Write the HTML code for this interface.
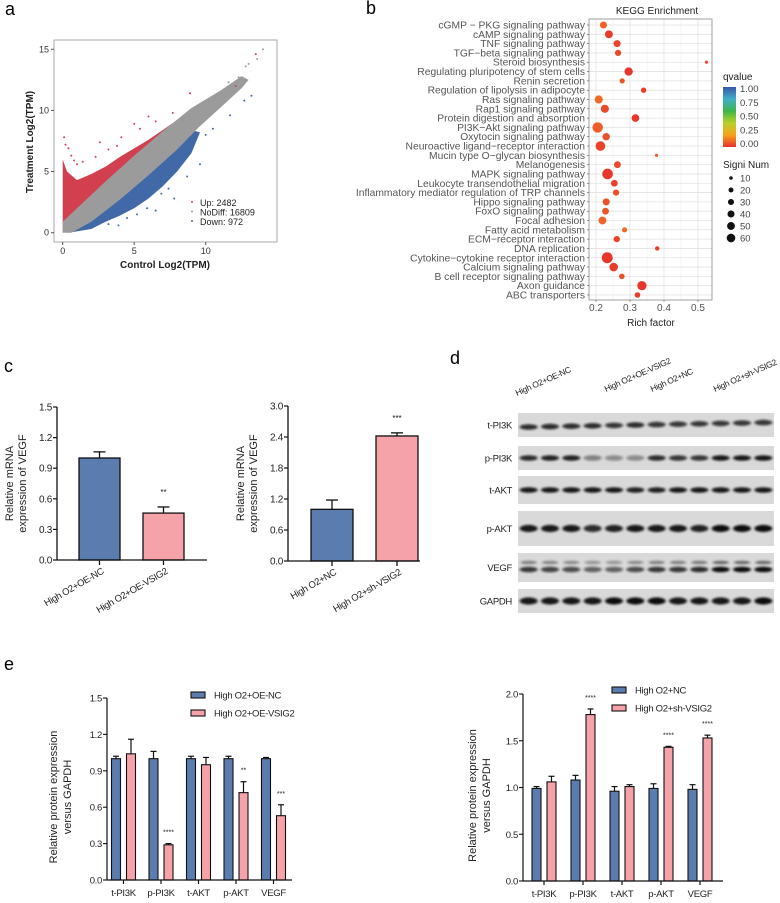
<!DOCTYPE html>
<html><head><meta charset="utf-8"><style>
html,body{margin:0;padding:0;background:#fff;}
svg{display:block;font-family:"Liberation Sans",sans-serif;}
.n{font-family:"Liberation Sans Narrow","Liberation Sans",sans-serif;letter-spacing:-0.3px;}
</style></head><body>
<svg id="fig" width="780" height="903" viewBox="0 0 780 903" xmlns="http://www.w3.org/2000/svg">
<defs>
<filter id="blur1" x="-50%" y="-100%" width="200%" height="300%"><feGaussianBlur stdDeviation="1.4 1.1"/></filter>
<linearGradient id="qgrad" x1="0" y1="1" x2="0" y2="0">
<stop offset="0" stop-color="#e8302a"/><stop offset="0.2" stop-color="#f7a21b"/><stop offset="0.4" stop-color="#b6d12a"/><stop offset="0.6" stop-color="#3fb54a"/><stop offset="0.8" stop-color="#3fb0c8"/><stop offset="1" stop-color="#3a56a8"/>
</linearGradient>
</defs>
<text x="5" y="15" font-size="18">a</text>
<text x="366" y="14" font-size="18">b</text>
<text x="4" y="372" font-size="18">c</text>
<text x="450" y="364" font-size="18">d</text>
<text x="4" y="670" font-size="18">e</text>
<g id="pa"></g>
<g id="pb"></g>
<g id="pc"></g>
<g id="pd"></g>
<g id="pe"></g>
</svg>
<script>
// ---------- panel a data ----------
const upX = [0.1,0.2,0.6,1.0,2.3,0.4,3.2,4.1,5.0,5.4,6.0,7.7,8.9,12.1,13.5,2.6,1.4,3.8,0.8,6.5];
const upY = [7.8,7.2,6.3,5.6,6.2,6.9,6.8,7.8,8.9,8.5,9.5,9.8,11.4,12.0,14.6,7.4,5.8,7.1,5.9,9.1];
const downX = [4.5,5.9,6.9,7.8,8.7,9.6,10.0,11.7,12.7,13.2,6.5,7.4,5.2,3.9,3.2,9.0,10.5];
const downY = [1.2,2.0,3.2,2.8,4.6,5.6,8.0,9.6,10.8,11.2,1.8,3.6,1.5,0.6,0.7,6.7,8.5];
const grayX = [9.5,10.2,11.0,11.6,12.3,12.8,13.6,14.0,10.7,12.0,13.0,9.9];
const grayY = [9.8,10.9,11.4,12.3,12.7,13.6,14.2,15.0,11.0,12.1,13.8,10.3];
const legendA = ["Up: 2482","NoDiff: 16809","Down: 972"];
// ---------- panel b data ----------
const keggTerms = ["cGMP - PKG signaling pathway","cAMP signaling pathway","TNF signaling pathway","TGF-beta signaling pathway","Steroid biosynthesis","Regulating pluripotency of stem cells","Renin secretion","Regulation of lipolysis in adipocyte","Ras signaling pathway","Rap1 signaling pathway","Protein digestion and absorption","PI3K-Akt signaling pathway","Oxytocin signaling pathway","Neuroactive ligand-receptor interaction","Mucin type O-glycan biosynthesis","Melanogenesis","MAPK signaling pathway","Leukocyte transendothelial migration","Inflammatory mediator regulation of TRP channels","Hippo signaling pathway","FoxO signaling pathway","Focal adhesion","Fatty acid metabolism","ECM-receptor interaction","DNA replication","Cytokine-cytokine receptor interaction","Calcium signaling pathway","B cell receptor signaling pathway","Axon guidance","ABC transporters"];
const keggRich = [0.222,0.238,0.262,0.265,0.525,0.296,0.277,0.340,0.208,0.226,0.316,0.205,0.230,0.213,0.378,0.263,0.234,0.254,0.259,0.230,0.228,0.219,0.284,0.261,0.380,0.233,0.252,0.276,0.335,0.322];
const keggNum = [26,32,26,20,5,36,14,15,34,34,30,56,28,48,5,24,58,24,20,26,24,32,14,20,10,62,38,16,44,16];
const keggQ = [0.08,0.02,0.03,0.04,0.03,0.01,0.06,0.02,0.09,0.04,0.01,0.07,0.05,0.03,0.06,0.04,0.01,0.03,0.05,0.05,0.06,0.08,0.09,0.03,0.02,0.01,0.02,0.05,0.01,0.02];
const keggTicks = [0.2,0.3,0.4,0.5];
const qTicks = ["1.00","0.75","0.50","0.25","0.00"];
const sizeLegend = [10,20,30,40,50,60];
// ---------- panel c data ----------
const c1Cats = ["High O2+OE-NC","High O2+OE-VSIG2"];
const c1Vals = [1.0,0.46];
const c1Errs = [0.06,0.06];
const c1Stars = ["","**"];
const c1Ticks = [0,0.3,0.6,0.9,1.2,1.5];
const c2Cats = ["High O2+NC","High O2+sh-VSIG2"];
const c2Vals = [1.0,2.42];
const c2Errs = [0.18,0.06];
const c2Stars = ["","***"];
const c2Ticks = [0,0.6,1.2,1.8,2.4,3.0];
// ---------- panel d data ----------
const blotRows = ["t-PI3K","p-PI3K","t-AKT","p-AKT","VEGF","GAPDH"];
const blotGroups = ["High O2+OE-NC","High O2+OE-VSIG2","High O2+NC","High O2+sh-VSIG2"];
const blotIntensity = [
 [0.85,0.85,0.85,0.85,0.8,0.85,0.8,0.8,0.8,0.8,0.8,0.8],
 [0.85,0.9,0.9,0.45,0.4,0.4,0.85,0.8,0.8,0.95,0.95,0.95],
 [0.95,0.95,0.95,0.95,0.95,0.9,0.9,0.95,0.95,0.95,0.95,0.95],
 [0.95,0.95,0.95,0.85,0.9,0.95,0.95,0.95,0.9,1,1,1],
 [0.8,0.75,0.7,0.6,0.6,0.7,0.8,0.8,0.85,1,1,1],
 [0.95,0.95,0.95,0.95,1,1,1,0.95,0.95,0.95,0.95,1]];
// ---------- panel e data ----------
const eCats = ["t-PI3K","p-PI3K","t-AKT","p-AKT","VEGF"];
const e1Blue = [1.0,1.0,1.0,1.0,1.0];
const e1BlueErr = [0.02,0.06,0.02,0.02,0.01];
const e1Pink = [1.04,0.29,0.95,0.72,0.53];
const e1PinkErr = [0.12,0.01,0.06,0.09,0.09];
const e1Stars = ["","****","","**","***"];
const e1Ticks = [0,0.3,0.6,0.9,1.2,1.5];
const e1Legend = ["High O2+OE-NC","High O2+OE-VSIG2"];
const e2Blue = [0.99,1.08,0.96,0.99,0.98];
const e2BlueErr = [0.02,0.05,0.05,0.05,0.05];
const e2Pink = [1.06,1.78,1.01,1.43,1.53];
const e2PinkErr = [0.06,0.06,0.02,0.01,0.03];
const e2Stars = ["","****","","****","****"];
const e2Ticks = [0,0.5,1.0,1.5,2.0];
const e2Legend = ["High O2+NC","High O2+sh-VSIG2"];

const NS="http://www.w3.org/2000/svg";
function mk(parent, tag, attrs, txt){
  const el=document.createElementNS(NS,tag);
  for(const k in attrs) el.setAttribute(k,attrs[k]);
  if(txt!==undefined) el.textContent=txt;
  parent.appendChild(el);
  return el;
}
const BLUE="#5a7cae", PINK="#f5a3a9";

// ================= Panel a =================
(function(){
  const g=document.getElementById('pa');
  const xA=v=>62.7+v*14.3, yA=v=>232.7-v*12.23;
  let el=mk(g,'rect',{x:54,y:40,width:223,height:202,fill:'#fff',stroke:'#aaa','stroke-width':1});
  
  
  function poly(pts,fill,name){
    const p=mk(g,'polygon',{points:pts.map(q=>xA(q[0])+','+yA(q[1])).join(' '),fill:fill});
    
    
  }
  poly([[0,0],[0,6],[0.3,5.0],[1,4.3],[2,4.8],[3,5.4],[4,6.2],[5,6.9],[6,7.6],[7,8.4],[8,9.2],[8.6,9.4],[8.5,8.8],[1,1.5],[0.3,0.3]],'#d2404f','up-genes-cloud');
  poly([[0.4,0],[2,0.3],[3,0.9],[4,1.4],[5,2.0],[6,2.8],[7,3.8],[8,5.0],[9,6.5],[9.6,8.2],[9,8.4],[7,5.8],[5,3.8],[3,1.9],[1,0.3]],'#4169a8','down-genes-cloud');
  poly([[0,0],[0.6,0],[2,0.9],[4,2.7],[6,4.7],[8,6.8],[9.5,8.6],[11,10.2],[12.5,11.8],[13,12.5],[12.5,12.8],[11,11.6],[9,10.2],[7,8.3],[5,6.3],[3,4.2],[1,2.0],[0,0.9]],'#9b9b9b','nodiff-genes-cloud');
  function pts(xs,ys,fill,name){
    for(let i=0;i<xs.length;i++){
      const c=mk(g,'circle',{cx:xA(xs[i]),cy:yA(ys[i]),r:1,fill:fill});
      
      
    }
  }
  pts(upX,upY,'#d2404f','up-gene-point');
  pts(downX,downY,'#4169a8','down-gene-point');
  pts(grayX,grayY,'#9b9b9b','nodiff-gene-point');
  [0,5,10].forEach(v=>{
    mk(g,'line',{x1:xA(v),x2:xA(v),y1:242,y2:245,stroke:'#555'});
    const t=mk(g,'text',{x:xA(v),y:254,'font-size':9,'text-anchor':'middle',fill:'#333'},String(v));
    
    
  });
  [0,5,10,15].forEach(v=>{
    mk(g,'line',{x1:51,x2:54,y1:yA(v),y2:yA(v),stroke:'#555'});
    const t=mk(g,'text',{x:49,y:yA(v)+3,'font-size':9,'text-anchor':'end',fill:'#333'},String(v));
    
    
  });
  let t=mk(g,'text',{x:165,y:268,'font-size':10,'font-weight':'bold','text-anchor':'middle',fill:'#222'},'Control Log2(TPM)');
  
  
  t=mk(g,'text',{x:0,y:0,'font-size':10,'font-weight':'bold','text-anchor':'middle',fill:'#222',transform:'translate(33,142) rotate(-90)'},'Treatment Log2(TPM)');
  
  
  const lc=['#d2404f','#9b9b9b','#4169a8'];
  legendA.forEach((s,i)=>{
    mk(g,'circle',{cx:192,cy:202+i*9.5,r:1,fill:lc[i]});
    const tt=mk(g,'text',{x:200,y:206+i*9.5,'font-size':9,fill:'#222'},s);
    
    
  });
})();

// ================= Panel b =================
(function(){
  const g=document.getElementById('pb');
  const xB=v=>596+(v-0.2)*340, yB=i=>25+i*9.31;
  let r=mk(g,'rect',{x:589,y:19,width:123,height:281,fill:'#fff'});
  
  
  [0.25,0.35,0.45].forEach(v=>mk(g,'line',{x1:xB(v),x2:xB(v),y1:19,y2:300,stroke:'#f0f0f0','stroke-width':0.6}));
  keggTicks.forEach(v=>mk(g,'line',{x1:xB(v),x2:xB(v),y1:19,y2:300,stroke:'#e2e2e2','stroke-width':0.8}));
  keggTerms.forEach((s,i)=>mk(g,'line',{x1:589,x2:712,y1:yB(i),y2:yB(i),stroke:'#e2e2e2','stroke-width':0.8}));
  mk(g,'rect',{x:589,y:19,width:123,height:281,fill:'none',stroke:'#888','stroke-width':0.8});
  function qcol(q){
    const t=Math.min(q/0.12,1);
    const a=[232,48,42], b=[242,125,38];
    return 'rgb('+a.map((v,k)=>Math.round(v+(b[k]-v)*t)).join(',')+')';
  }
  const rad=n=>5.4*Math.sqrt(n/60);
  keggTerms.forEach((s,i)=>{
    const t=mk(g,'text',{x:585,y:yB(i)+3.5,'font-size':10.3,'text-anchor':'end',fill:'#555'},s.replace(/-/g,'\u2212'));
    
    
    mk(g,'line',{x1:587,x2:589,y1:yB(i),y2:yB(i),stroke:'#555','stroke-width':0.6});
    const c=mk(g,'circle',{cx:xB(keggRich[i]),cy:yB(i),r:rad(keggNum[i]),fill:qcol(keggQ[i])});
    
    
  });
  keggTicks.forEach(v=>{
    mk(g,'line',{x1:xB(v),x2:xB(v),y1:300,y2:302,stroke:'#555','stroke-width':0.6});
    const t=mk(g,'text',{x:xB(v),y:311,'font-size':10,'text-anchor':'middle',fill:'#555'},String(v));
    
    
  });
  let t=mk(g,'text',{x:651,y:326,'font-size':10,'text-anchor':'middle',fill:'#222'},'Rich factor');
  
  
  t=mk(g,'text',{x:657,y:14,'font-size':10,'text-anchor':'middle',fill:'#222'},'KEGG Enrichment');
  
  
  t=mk(g,'text',{x:723,y:80,'font-size':10,fill:'#222'},'qvalue');
  
  
  r=mk(g,'rect',{x:723,y:87,width:13,height:60,fill:'url(#qgrad)'});
  
  
  qTicks.forEach((s,i)=>{
    const tt=mk(g,'text',{x:740,y:92+i*13.8,'font-size':9.5,fill:'#444'},s);
    
    
  });
  t=mk(g,'text',{x:723,y:168,'font-size':10,fill:'#222'},'Signi Num');
  
  
  sizeLegend.forEach((n,i)=>{
    const c=mk(g,'circle',{cx:731,cy:178+i*12,r:rad(n)*0.8,fill:'#111'});
    
    
    const tt=mk(g,'text',{x:740,y:181.5+i*12,'font-size':9.5,fill:'#444'},String(n));
    
    
  });
})();

// ================= generic bar chart for c =================
function simpleBars(g,cfg){
  const y=v=>cfg.y0-(v/cfg.max)*(cfg.y0-cfg.yTop);
  cfg.cats.forEach((c,i)=>{
    const cx=cfg.x0+cfg.first+i*cfg.step, w=cfg.w;
    const top=y(cfg.vals[i]+cfg.errs[i]);
    mk(g,'line',{x1:cx,x2:cx,y1:y(cfg.vals[i]),y2:top,stroke:'#111','stroke-width':1.3});
    mk(g,'line',{x1:cx-6,x2:cx+6,y1:top,y2:top,stroke:'#111','stroke-width':1.3});
    const b=mk(g,'rect',{x:cx-w/2,y:y(cfg.vals[i]),width:w,height:cfg.y0-y(cfg.vals[i]),fill:i?PINK:BLUE,stroke:'#111','stroke-width':1.3});
    
    
    mk(g,'line',{x1:cx,x2:cx,y1:cfg.y0,y2:cfg.y0+5,stroke:'#111','stroke-width':1.3});
    const t=mk(g,'text',{'class':'n','font-size':9.5,'text-anchor':'end',fill:'#222',transform:'translate('+(cx+5)+','+(cfg.y0+13)+') rotate(-30)'},c);
    
    
    if(cfg.stars[i]){
      const s=mk(g,'text',{x:cx,y:top-12,'font-size':8,'text-anchor':'middle',fill:'#222'},cfg.stars[i]);
      
      
    }
  });
  mk(g,'line',{x1:cfg.x0,x2:cfg.x0,y1:cfg.yTop,y2:cfg.y0,stroke:'#111','stroke-width':1.3});
  mk(g,'line',{x1:cfg.x0,x2:cfg.xEnd,y1:cfg.y0,y2:cfg.y0,stroke:'#111','stroke-width':1.3});
  cfg.ticks.forEach(v=>{
    mk(g,'line',{x1:cfg.x0-4,x2:cfg.x0,y1:y(v),y2:y(v),stroke:'#111','stroke-width':1.2});
    const t=mk(g,'text',{x:cfg.x0-5,y:y(v)+3.5,'font-size':10,'text-anchor':'end',fill:'#222','class':'n'},v.toFixed(1));
    
    
  });
  const tx=cfg.x0-44, cy=(cfg.y0+cfg.yTop)/2;
  let t=mk(g,'text',{'font-size':11,'text-anchor':'middle',fill:'#222',transform:'translate('+tx+','+cy+') rotate(-90)'},'Relative mRNA');
  
  
  t=mk(g,'text',{'font-size':11,'text-anchor':'middle',fill:'#222',transform:'translate('+(tx+13)+','+cy+') rotate(-90)'},'expression of VEGF');
  
  
}
(function(){
  const g=document.getElementById('pc');
  const g1=mk(g,'g',{});
  
  
  simpleBars(g1,{cats:c1Cats,vals:c1Vals,errs:c1Errs,stars:c1Stars,ticks:c1Ticks,max:1.5,x0:57,y0:560,yTop:407,xEnd:207,first:42.5,step:64,w:41});
  const g2=mk(g,'g',{});
  
  
  simpleBars(g2,{cats:c2Cats,vals:c2Vals,errs:c2Errs,stars:c2Stars,ticks:c2Ticks,max:3.0,x0:288,y0:561,yTop:406,xEnd:420,first:44,step:65,w:42});
})();

// ================= Panel d =================
(function(){
  const g=document.getElementById('pd');
  const rowY=[[413,437],[446,470],[476,504],[511,546],[553,582],[589,613]];
  const x0=518, x1=774, lw=(x1-x0)/12;
  blotRows.forEach((name,r)=>{
    const [a,b]=rowY[r];
    const bg=mk(g,'rect',{x:x0,y:a,width:x1-x0,height:b-a,fill:'#d9d9d9'});
    
    
    const t=mk(g,'text',{x:512,y:(a+b)/2+3.5,'font-size':9.5,'text-anchor':'end',fill:'#222','class':'n'},name);
    
    
    blotIntensity[r].forEach((v,i)=>{
      const cx=x0+lw*(i+0.5), cy=(a+b)/2+(r===0?2-i*0.4:0);
      if(name==='VEGF'){
        mk(g,'ellipse',{cx:cx,cy:cy-5,rx:lw*0.38,ry:1.8,fill:'#222','fill-opacity':v*0.6,filter:'url(#blur1)'});
      }
      const e=mk(g,'ellipse',{cx:cx,cy:name==='VEGF'?cy+2:cy,rx:lw*0.42,ry:name==='p-AKT'||name==='GAPDH'?3.6:2.8,fill:'#111','fill-opacity':v,filter:'url(#blur1)'});
      
      
    });
  });
  const gx=[517,606,652,715], gy=[396,392,392,392];
  blotGroups.forEach((s,i)=>{
    const t=mk(g,'text',{'font-size':8.5,fill:'#222','class':'n',transform:'translate('+gx[i]+','+gy[i]+') rotate(-24)'},s);
    
    
  });
})();

// ================= Panel e =================
function groupedBars(g,cfg){
  const y=v=>cfg.y0-(v/cfg.max)*(cfg.y0-cfg.yTop);
  cfg.cats.forEach((c,i)=>{
    const gc=cfg.x0+cfg.first+i*cfg.step;
    [[cfg.blue,cfg.blueErr,BLUE,-7.5],[cfg.pink,cfg.pinkErr,PINK,7.5]].forEach((s,k)=>{
      const cx=gc+s[3], v=s[0][i], top=y(v+s[1][i]);
      mk(g,'line',{x1:cx,x2:cx,y1:y(v),y2:top,stroke:'#111','stroke-width':1.2});
      mk(g,'line',{x1:cx-3,x2:cx+3,y1:top,y2:top,stroke:'#111','stroke-width':1.2});
      const b=mk(g,'rect',{x:cx-4.5,y:y(v),width:9,height:cfg.y0-y(v),fill:s[2],stroke:'#111','stroke-width':1.1});
      
      
    });
    const t=mk(g,'text',{x:gc,y:cfg.y0+16,'font-size':9.5,'text-anchor':'middle',fill:'#222','class':'n'},c);
    
    
    mk(g,'line',{x1:gc,x2:gc,y1:cfg.y0,y2:cfg.y0+4,stroke:'#111','stroke-width':1.2});
    if(cfg.stars[i]){
      const s=mk(g,'text',{x:gc+7.5,y:y(cfg.pink[i]+cfg.pinkErr[i])-9,'font-size':7,'text-anchor':'middle',fill:'#222'},cfg.stars[i]);
      
      
    }
  });
  mk(g,'line',{x1:cfg.x0,x2:cfg.x0,y1:cfg.yTop,y2:cfg.y0,stroke:'#111','stroke-width':1.2});
  mk(g,'line',{x1:cfg.x0,x2:cfg.xEnd,y1:cfg.y0,y2:cfg.y0,stroke:'#111','stroke-width':1.2});
  cfg.ticks.forEach(v=>{
    mk(g,'line',{x1:cfg.x0-4,x2:cfg.x0,y1:y(v),y2:y(v),stroke:'#111','stroke-width':1.1});
    const t=mk(g,'text',{x:cfg.x0-5,y:y(v)+3.5,'font-size':9.5,'text-anchor':'end',fill:'#222','class':'n'},v.toFixed(1));
    
    
  });
  const cy=(cfg.y0+cfg.yTop)/2+8;
  let t=mk(g,'text',{'font-size':11,'text-anchor':'middle',fill:'#222',transform:'translate('+cfg.tx+','+cy+') rotate(-90)'},'Relative protein expression');
  
  
  t=mk(g,'text',{'font-size':11,'text-anchor':'middle',fill:'#222',transform:'translate('+(cfg.tx+14)+','+cy+') rotate(-90)'},'versus GAPDH');
  
  
  cfg.legend.forEach((s,i)=>{
    const r=mk(g,'rect',{x:cfg.lx,y:cfg.ly+i*18-3,width:14,height:6,fill:i?PINK:BLUE,stroke:'#111','stroke-width':1.1});
    
    
    const tt=mk(g,'text',{x:cfg.lx+23,y:cfg.ly+i*18+3.5,'font-size':9.5,fill:'#222','class':'n'},s);
    
    
  });
}
(function(){
  const g=document.getElementById('pe');
  const g1=mk(g,'g',{});
  
  
  groupedBars(g1,{cats:eCats,blue:e1Blue,blueErr:e1BlueErr,pink:e1Pink,pinkErr:e1PinkErr,stars:e1Stars,ticks:e1Ticks,max:1.5,x0:107,y0:880,yTop:698,xEnd:292,first:16.5,step:37.5,tx:57,legend:e1Legend,lx:191,ly:695});
  const g2=mk(g,'g',{});
  
  
  groupedBars(g2,{cats:eCats,blue:e2Blue,blueErr:e2BlueErr,pink:e2Pink,pinkErr:e2PinkErr,stars:e2Stars,ticks:e2Ticks,max:2.0,x0:523,y0:881,yTop:694,xEnd:723,first:21,step:39,tx:476,legend:e2Legend,lx:612,ly:690});
})();
</script>
</body></html>
